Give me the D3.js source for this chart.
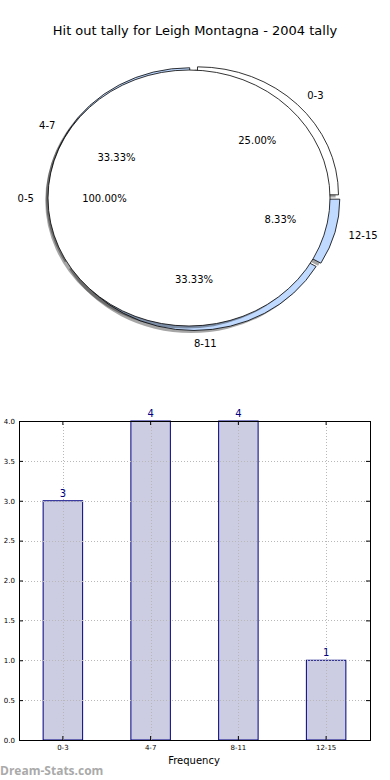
<!DOCTYPE html>
<html>
<head>
<meta charset="utf-8">
<script src="https://cdnjs.cloudflare.com/ajax/libs/d3/7.8.5/d3.min.js"></script>
<style>
    body { margin: 0; background: #fff; }
    svg { display: block; font-family: "DejaVu Sans", sans-serif; }
</style>
</head>
<body>
<div id="chart"></div>
<script>
// data
const title = 'Hit out tally for Leigh Montagna - 2004 tally';
const categories = ['0-3', '4-7', '8-11', '12-15'];
const counts = [3, 4, 4, 1];
const pieColors = ['#ffffff', '#bfd9ff', '#bfd9ff', '#bfd9ff'];
const totalLabel = ['0-5'];
const totalValue = [1];
const yTicks = [0, 0.5, 1, 1.5, 2, 2.5, 3, 3.5, 4];

const W = 390, H = 780;

const svg = d3.select('#chart').append('svg')
    .attr('width', W)
    .attr('height', H);

svg.append('text')
    .attr('x', 195)
    .attr('y', 35)
    .attr('text-anchor', 'middle')
    .style('font-size', '13px')
    .text(title);

// ---- pie (elliptical, like a non-equal aspect matplotlib pie) ----
const pie = {cx: 189, cy: 198, rx: 141, ry: 128, explode: 0.035, shift: 5};
const sy = pie.ry / pie.rx;

// matplotlib order: start at 3 o'clock, counter clockwise
const pieGen = d3.pie().sort(null)
    .startAngle(Math.PI / 2)
    .endAngle(Math.PI / 2 - 2 * Math.PI);

const arc = d3.arc().innerRadius(0).outerRadius(pie.rx);

const total = d3.sum(counts);
const slices = pieGen(counts);

function dir(d) {
    const a = (d.startAngle + d.endAngle) / 2;
    return [Math.sin(a), -Math.cos(a)];
}

const pieG = svg.append('g');

function drawWedge(g, d, x, y, fill) {
    // shadow
    g.append('path')
        .attr('d', arc(d))
        .attr('transform', `translate(${x - 2.8},${y + 2.6}) scale(1,${sy})`)
        .attr('fill', '#000')
        .attr('fill-opacity', 0.35)
        .attr('stroke', 'none');
    g.append('path')
        .attr('d', arc(d))
        .attr('transform', `translate(${x},${y}) scale(1,${sy})`)
        .attr('fill', fill)
        .attr('stroke', '#000')
        .attr('stroke-width', 0.8)
        .attr('vector-effect', 'non-scaling-stroke');
}

const ox = pie.cx + pie.shift, oy = pie.cy;

slices.forEach((d, i) => {
    const [ux, uy] = dir(d);
    const x = ox + pie.explode * pie.rx * ux;
    const y = oy + pie.explode * pie.ry * uy;
    drawWedge(pieG, d, x, y, pieColors[i]);
});

// full 100% pie on top
const fullSlice = pieGen(totalValue)[0];
const fullG = svg.append('g');
fullG.append('ellipse')
    .attr('cx', pie.cx - 2.8).attr('cy', pie.cy + 2.6)
    .attr('rx', pie.rx).attr('ry', pie.ry)
    .attr('fill', '#000').attr('fill-opacity', 0.35);
fullG.append('ellipse')
    .attr('cx', pie.cx).attr('cy', pie.cy)
    .attr('rx', pie.rx).attr('ry', pie.ry)
    .attr('fill', '#fff')
    .attr('stroke', '#000')
    .attr('stroke-width', 0.8);

// labels
const textG = svg.append('g').style('font-size', '10px');

slices.forEach((d, i) => {
    const [ux, uy] = dir(d);
    const x = ox + pie.explode * pie.rx * ux;
    const y = oy + pie.explode * pie.ry * uy;
    textG.append('text')
        .attr('x', x + 1.1 * pie.rx * ux)
        .attr('y', y + 1.1 * pie.ry * uy)
        .attr('dy', '0.35em')
        .attr('text-anchor', ux > 1e-9 || Math.abs(ux) < 1e-9 ? 'start' : 'end')
        .text(categories[i]);
    textG.append('text')
        .attr('x', x + 0.6 * pie.rx * ux)
        .attr('y', y + 0.6 * pie.ry * uy)
        .attr('dy', '0.35em')
        .attr('text-anchor', 'middle')
        .text(d3.format('.2f')(counts[i] / total * 100) + '%');
});

{
    const [ux, uy] = dir(fullSlice);
    textG.append('text')
        .attr('x', pie.cx + 1.1 * pie.rx * ux)
        .attr('y', pie.cy + 1.1 * pie.ry * uy)
        .attr('dy', '0.35em')
        .attr('text-anchor', 'end')
        .text(totalLabel[0]);
    textG.append('text')
        .attr('x', pie.cx + 0.6 * pie.rx * ux)
        .attr('y', pie.cy + 0.6 * pie.ry * uy)
        .attr('dy', '0.35em')
        .attr('text-anchor', 'middle')
        .text('100.00%');
}

// ---- bar chart ----
const bar = {left: 19, right: 370, top: 421, bottom: 740};

const xScale = d3.scaleBand()
    .domain(categories)
    .range([bar.left, bar.right])
    .paddingInner(0.55)
    .paddingOuter(0.275);

const yScale = d3.scaleLinear()
    .domain([0, 4])
    .range([bar.bottom, bar.top]);

const chart = svg.append('g');

chart.selectAll('rect.bar')
    .data(counts)
    .join('rect')
    .attr('class', 'bar')
    .attr('x', (d, i) => xScale(categories[i]))
    .attr('y', d => yScale(d))
    .attr('width', xScale.bandwidth())
    .attr('height', d => yScale(0) - yScale(d))
    .attr('fill', '#cccce3')
    .attr('stroke', '#000080')
    .attr('stroke-width', 1);

// grid
const grid = chart.append('g')
    .attr('stroke', '#b8b8b8')
    .attr('stroke-width', 1)
    .attr('stroke-dasharray', '1,2');

grid.selectAll('line.h')
    .data(yTicks)
    .join('line')
    .attr('class', 'h')
    .attr('x1', bar.left).attr('x2', bar.right)
    .attr('y1', d => Math.round(yScale(d)) + 0.5)
    .attr('y2', d => Math.round(yScale(d)) + 0.5);

grid.selectAll('line.v')
    .data(categories)
    .join('line')
    .attr('class', 'v')
    .attr('x1', d => Math.round(xScale(d) + xScale.bandwidth() / 2) + 0.5)
    .attr('x2', d => Math.round(xScale(d) + xScale.bandwidth() / 2) + 0.5)
    .attr('y1', bar.top).attr('y2', bar.bottom);

// axes (inward ticks on all sides)
const yAxisL = d3.axisLeft(yScale).tickValues(yTicks).tickFormat(d3.format('.1f')).tickSize(-4).tickPadding(4);
const yAxisR = d3.axisRight(yScale).tickValues(yTicks).tickFormat('').tickSize(-4);
const xAxisB = d3.axisBottom(xScale).tickSize(-4).tickPadding(5);
const xAxisT = d3.axisTop(xScale).tickFormat('').tickSize(-4);

function styleAxis(g) {
    g.select('.domain').remove();
    g.selectAll('.tick line').attr('stroke', '#000');
    g.selectAll('.tick text').style('font-size', '7px').attr('fill', '#000');
    g.attr('font-family', null);
}

chart.append('g').attr('transform', `translate(${bar.left},0)`).call(yAxisL).call(styleAxis);
chart.append('g').attr('transform', `translate(${bar.right},0)`).call(yAxisR).call(styleAxis);
chart.append('g').attr('transform', `translate(0,${bar.bottom})`).call(xAxisB).call(styleAxis);
chart.append('g').attr('transform', `translate(0,${bar.top})`).call(xAxisT).call(styleAxis);

chart.append('rect')
    .attr('x', bar.left + 0.5).attr('y', bar.top + 0.5)
    .attr('width', bar.right - bar.left).attr('height', bar.bottom - bar.top)
    .attr('fill', 'none')
    .attr('stroke', '#000')
    .attr('stroke-width', 1);

// value labels
chart.selectAll('text.val')
    .data(counts)
    .join('text')
    .attr('class', 'val')
    .attr('x', (d, i) => xScale(categories[i]) + xScale.bandwidth() / 2)
    .attr('y', d => yScale(d) - 4)
    .attr('text-anchor', 'middle')
    .attr('fill', '#000080')
    .style('font-size', '10px')
    .text(d => d);

svg.append('text')
    .attr('x', 194)
    .attr('y', 764)
    .attr('text-anchor', 'middle')
    .style('font-size', '10px')
    .text('Frequency');

svg.append('text')
    .attr('x', 0)
    .attr('y', 775)
    .attr('fill', '#aaaaaa')
    .style('font-size', '12px')
    .style('font-weight', 'bold')
    .style('font-family', '"Open Sans", sans-serif')
    .text('Dream-Stats.com');
</script>
</body>
</html>
